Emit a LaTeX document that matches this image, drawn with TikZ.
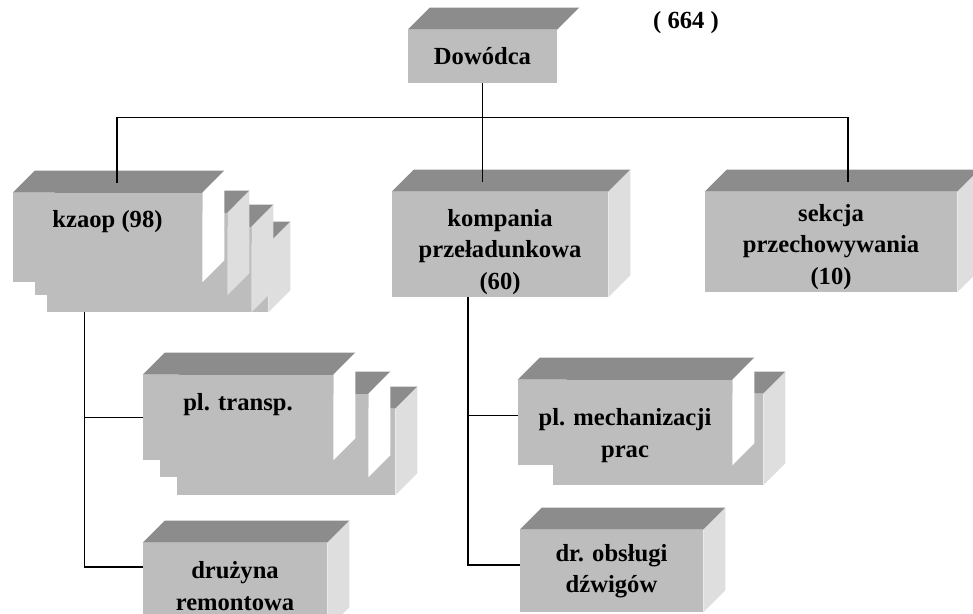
\documentclass[tikz,border=0pt]{standalone}
\usepackage{fontspec}
\setmainfont{Liberation Serif}
\usetikzlibrary{calc}

\definecolor{przod}{gray}{0.74}
\definecolor{gora}{gray}{0.55}
\definecolor{bok}{gray}{0.87}

% top and right face of a box node
\newcommand{\scianki}[2][bok]{%
    \fill[gora] (#2.north west) -- ++(0.44,0.44) -- ([shift={(0.44,0.44)}]#2.north east) -- (#2.north east) -- cycle;
    \fill[#1] (#2.north east) -- ++(0.44,0.44) -- ([shift={(0.44,0.44)}]#2.south east) -- (#2.south east) -- cycle;}

\begin{document}
\begin{tikzpicture}[
        kostka/.style={fill=przod, inner sep=0pt, align=center,
            font=\bfseries\fontsize{14}{18}\selectfont},
        rozmiar/.style 2 args={minimum width=#1cm, minimum height=#2cm},
        linia/.style={line width=0.9pt}]
    \useasboundingbox (0,0) rectangle (19.46,-12.26);
    \clip (0,0) rectangle (19.46,-12.26);

    % dowodca
    \node[kostka, rozmiar={2.98}{1.06}] (dowodca) at (9.65,-1.13) {Dowódca};
    \scianki[white]{dowodca}
    \node[font=\bfseries\fontsize{14}{18}\selectfont] (stan) at (13.72,-0.46) {( 664 )};

    % kzaop
    \node[kostka, rozmiar={4.16}{1.36}] (kzaop4) at (3.28,-5.56) {};
    \scianki{kzaop4}
    \node[kostka, rozmiar={4.08}{1.70}] (kzaop3) at (2.98,-5.39) {};
    \scianki{kzaop3}
    \node[kostka, rozmiar={3.84}{1.64}] (kzaop2) at (2.62,-5.08) {};
    \scianki{kzaop2}
    \node[kostka, rozmiar={3.78}{1.78}] (kzaop) at (2.15,-4.75) {\rule[-0.76cm]{0pt}{0.76cm}kzaop (98)};
    \scianki[white]{kzaop}

    \node[kostka, rozmiar={4.32}{2.10}] (kompania) at (10.0,-4.89) {\rule{0pt}{0.64cm}kompania\\przeładunkowa\\(60)};
    \scianki{kompania}
    \node[kostka, rozmiar={5.04}{2.00}] (sekcja) at (16.62,-4.84) {\rule{0pt}{0.54cm}sekcja\\przechowywania\\(10)};
    \scianki{sekcja}

    % plutony i druzyny
    \node[kostka, rozmiar={4.36}{1.72}] (pltransp3) at (5.72,-9.04) {};
    \scianki{pltransp3}
    \node[kostka, rozmiar={4.16}{1.66}] (pltransp2) at (5.28,-8.71) {};
    \scianki[white]{pltransp2}
    \node[kostka, rozmiar={3.80}{1.70}] (pltransp) at (4.76,-8.35) {\rule[-0.63cm]{0pt}{0.63cm}pl. transp.};
    \scianki[white]{pltransp}

    \node[kostka, rozmiar={3.68}{1.72}] (druzyna) at (4.70,-11.72) {drużyna\\remontowa};
    \scianki{druzyna}

    \node[kostka, rozmiar={4.20}{1.82}] (mechanizacja2) at (13.16,-8.79) {};
    \scianki{mechanizacja2}
    \node[kostka, rozmiar={4.28}{1.70}] (mechanizacja) at (12.50,-8.45) {\rule{0pt}{0.86cm}pl. mechanizacji\\prac};
    \scianki[white]{mechanizacja}

    \node[kostka, rozmiar={3.66}{1.64}] (obslugi) at (12.23,-11.42) {dr. obsługi\\dźwigów};
    \scianki{obslugi}

    % polaczenia
    \draw[linia] (dowodca.south) -- ++(0,-0.68) coordinate (szyna);
    \draw[linia] ($(kzaop.north)+(0.19,0.2)$) |- (szyna) -| ($(sekcja.north)+(0.34,0.2)$);
    \draw[linia] (dowodca.south) -- ($(dowodca.south |- kompania.north)+(0,0.2)$);

    \coordinate (kz-dol) at ($(kzaop3.south west)+(0.76,0)$);
    \draw[linia] (kz-dol) |- (pltransp.west);
    \draw[linia] (kz-dol) |- ($(druzyna.west)+(0,0.38)$);

    \coordinate (kp-dol) at ($(kompania.south)+(-0.64,0)$);
    \draw[linia] (kp-dol) |- ($(mechanizacja.west)+(0,0.14)$);
    \draw[linia] (kp-dol) |- ($(obslugi.west)+(0,0.12)$);
\end{tikzpicture}
\end{document}
